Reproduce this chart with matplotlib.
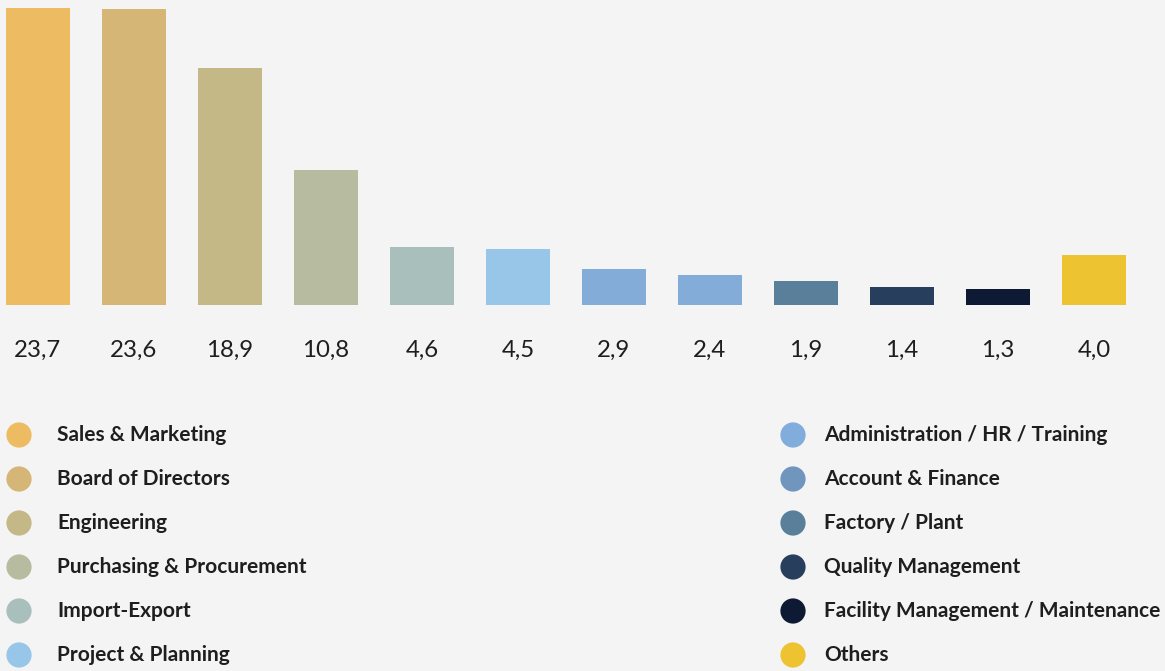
import matplotlib
matplotlib.use("Agg")
import matplotlib.pyplot as plt

categories = ["Sales & Marketing", "Board of Directors", "Engineering",
              "Purchasing & Procurement", "Import-Export", "Project & Planning",
              "Administration / HR / Training", "Account & Finance",
              "Factory / Plant", "Quality Management",
              "Facility Management / Maintenance", "Others"]
values = [23.7, 23.6, 18.9, 10.8, 4.6, 4.5, 2.9, 2.4, 1.9, 1.4, 1.3, 4.0]
value_labels = ["23,7", "23,6", "18,9", "10,8", "4,6", "4,5",
                "2,9", "2,4", "1,9", "1,4", "1,3", "4,0"]
bar_colors = ["#EDBB62", "#D6B676", "#C4B887", "#B7BBA0", "#A9BFBC", "#97C6E8",
              "#83ACD8", "#83ACD8", "#5A7F9A", "#273F5C", "#0E1A33", "#EEC332"]
legend_colors = ["#EDBB62", "#D6B676", "#C4B887", "#B7BBA0", "#A9BFBC", "#97C6E8",
                 "#80ADDB", "#7096BE", "#5A7F9A", "#273F5C", "#0E1A33", "#EEC332"]

bg = "#F4F4F4"
W, H = 1165, 671

fig = plt.figure(figsize=(W / 100, H / 100), dpi=100, facecolor=bg)

# bars
base_px = 305
ax = fig.add_axes([0, (H - base_px) / H, 1, base_px / H])
ax.set_facecolor(bg)
x = list(range(len(values)))
ax.bar(x, values, width=64 / 96, color=bar_colors)
ax.set_xlim(-38 / 96, (W - 38) / 96)
ax.set_ylim(0, base_px / 12.53)
ax.axis("off")

for i, lab in enumerate(value_labels):
    ax.text(i, -45 / 12.53, lab, ha="center", va="center", fontsize=17.3,
            family="Lato", color="#1E1E1E", clip_on=False)

# legend
lg = fig.add_axes([0, 0, 1, 1])
lg.set_xlim(0, W)
lg.set_ylim(H, 0)
lg.axis("off")
lg.patch.set_alpha(0)

for i, name in enumerate(categories):
    col = i // 6
    row = i % 6
    cx = 19 if col == 0 else 793
    tx = 57 if col == 0 else 824
    cy = 435 + row * 44
    lg.scatter([cx], [cy], s=330, color=legend_colors[i], edgecolors="none")
    lg.text(tx, cy, name, ha="left", va="center", fontsize=15,
            family="Lato", weight="bold", color="#1E1E1E")

fig.savefig("out.png", dpi=100, facecolor=bg)
